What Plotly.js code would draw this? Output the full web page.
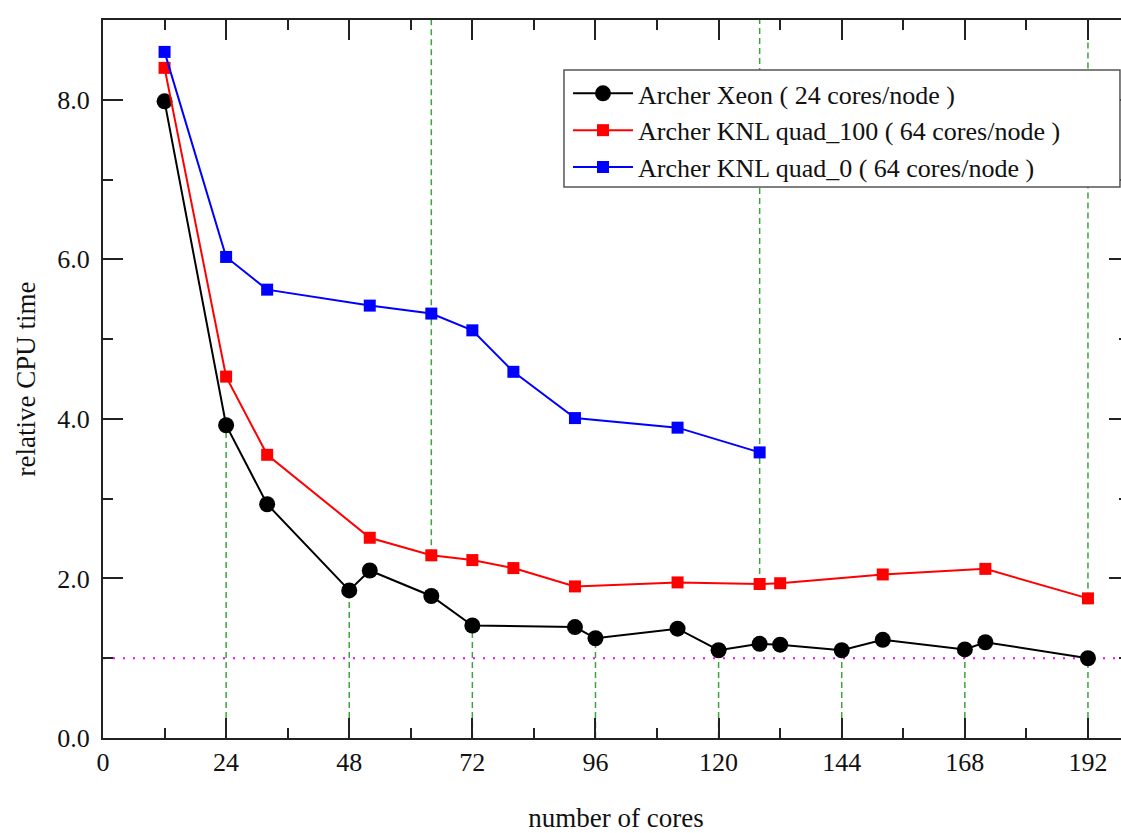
<!DOCTYPE html>
<html>
<head>
<meta charset="utf-8">
<script src="https://cdn.plot.ly/plotly-3.0.1.min.js"></script>
<style>
html, body { margin: 0; padding: 0; overflow: hidden; background: #fff; }
#chart { width: 1130px; height: 833px; }
</style>
</head>
<body>
<div id="chart"></div>
<script>
// ---- data ----
const coresXeon = [12, 24, 32, 48, 52, 64, 72, 92, 96, 112, 120, 128, 132, 144, 152, 168, 172, 192];
const cpuXeon   = [7.98, 3.92, 2.93, 1.85, 2.10, 1.78, 1.41, 1.39, 1.25, 1.37, 1.10, 1.18, 1.17, 1.10, 1.23, 1.11, 1.20, 1.00];

const coresQuad100 = [12, 24, 32, 52, 64, 72, 80, 92, 112, 128, 132, 152, 172, 192];
const cpuQuad100   = [8.40, 4.53, 3.55, 2.51, 2.29, 2.23, 2.13, 1.90, 1.95, 1.93, 1.94, 2.05, 2.12, 1.75];

const coresQuad0 = [12, 24, 32, 52, 64, 72, 80, 92, 112, 128];
const cpuQuad0   = [8.60, 6.03, 5.62, 5.42, 5.32, 5.11, 4.59, 4.01, 3.89, 3.58];

const xeonNodeBoundaries = [24, 48, 72, 96, 120, 144, 168, 192];
const knlNodeBoundaries  = [64, 128, 192];
const referenceLevel = 1.0;

const seriesNames = [
  'Archer Xeon ( 24 cores/node )',
  'Archer KNL quad_100 ( 64 cores/node )',
  'Archer KNL quad_0 ( 64 cores/node )'
];

const xRange = [0, 200];
const yRange = [0, 9];

// ---- build guide lines from the data ----
function valueAt(xs, ys, x) { return ys[xs.indexOf(x)]; }

const xeonGuideX = [], xeonGuideY = [];
xeonNodeBoundaries.forEach(c => {
  xeonGuideX.push(c, c, null);
  xeonGuideY.push(0, valueAt(coresXeon, cpuXeon, c), null);
});
const knlGuideX = [], knlGuideY = [];
knlNodeBoundaries.forEach(c => {
  knlGuideX.push(c, c, null);
  knlGuideY.push(valueAt(coresQuad100, cpuQuad100, c), yRange[1], null);
});

const green = '#3da33d';
const font = 'Liberation Serif';

const traces = [
  { x: xeonGuideX, y: xeonGuideY, mode: 'lines', showlegend: false, hoverinfo: 'skip',
    line: { color: green, width: 1.5, dash: '6px,4px' } },
  { x: knlGuideX, y: knlGuideY, mode: 'lines', showlegend: false, hoverinfo: 'skip',
    line: { color: green, width: 1.5, dash: '6px,4px' } },
  { x: xRange, y: [referenceLevel, referenceLevel], mode: 'lines', showlegend: false, hoverinfo: 'skip',
    line: { color: '#ff00ff', width: 2, dash: '2px,8px' } },
  { x: coresXeon, y: cpuXeon, name: seriesNames[0], mode: 'lines+markers',
    line: { color: '#000000', width: 2 },
    marker: { symbol: 'circle', size: 16, color: '#000000' } },
  { x: coresQuad100, y: cpuQuad100, name: seriesNames[1], mode: 'lines+markers',
    line: { color: '#ff0000', width: 2 },
    marker: { symbol: 'square', size: 12, color: '#ff0000' } },
  { x: coresQuad0, y: cpuQuad0, name: seriesNames[2], mode: 'lines+markers',
    line: { color: '#0000ff', width: 2 },
    marker: { symbol: 'square', size: 12, color: '#0000ff' } }
];

const axisCommon = {
  showline: true, linewidth: 2, linecolor: '#222', mirror: 'ticks',
  ticks: 'inside', ticklen: 20, tickwidth: 2, tickcolor: '#222',
  showgrid: false, zeroline: false,
  tickfont: { family: font, size: 26, color: '#111' }
};

const layout = {
  width: 1130, height: 833,
  margin: { l: 103, r: 1, t: 20, b: 95 },
  paper_bgcolor: '#ffffff', plot_bgcolor: '#ffffff',
  font: { family: font, color: '#111' },
  xaxis: Object.assign({}, axisCommon, {
    range: xRange, tick0: 0, dtick: 24,
    minor: { dtick: 12, ticks: 'inside', ticklen: 10, tickwidth: 2, tickcolor: '#222' },
    title: { text: 'number of cores', font: { family: font, size: 27, color: '#111' }, standoff: 42 },
    automargin: false
  }),
  yaxis: Object.assign({}, axisCommon, {
    range: yRange, tick0: 0, dtick: 2, tickformat: '.1f',
    ticklabelstandoff: 6,
    minor: { dtick: 1, ticks: 'inside', ticklen: 10, tickwidth: 2, tickcolor: '#222' },
    title: { text: 'relative CPU time', font: { family: font, size: 27, color: '#111' }, standoff: 14 },
    automargin: false
  }),
  // opaque legend frame (Grace-style box), drawn over the guide lines
  shapes: [{
    type: 'rect', xref: 'paper', yref: 'paper', layer: 'above',
    x0: 0.4493, x1: 0.9912, y0: 0.7674, y1: 0.9304,
    line: { color: '#555', width: 1.5 }, fillcolor: '#ffffff'
  }],
  legend: {
    x: 0.4532, xanchor: 'left', y: 0.9304, yanchor: 'top',
    bgcolor: 'rgba(0,0,0,0)', borderwidth: 0,
    font: { family: font, size: 26, color: '#111' },
    itemwidth: 60,
    tracegroupgap: 0
  },
  showlegend: true
};

Plotly.newPlot('chart', traces, layout, { displayModeBar: false, staticPlot: true });
</script>
</body>
</html>
